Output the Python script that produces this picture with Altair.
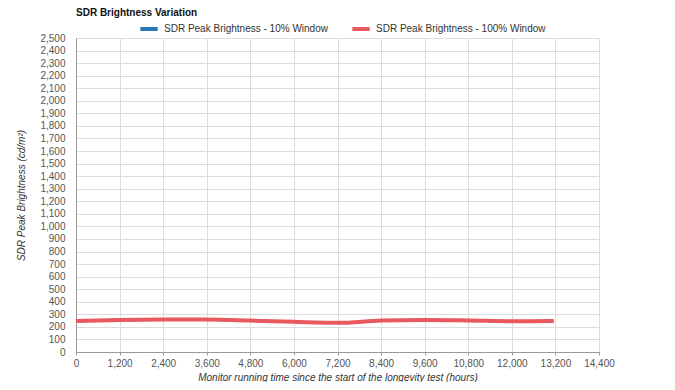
import altair as alt
import pandas as pd

hours = [0, 1200, 2400, 3600, 4800, 6000, 7200, 8400, 9600, 10800, 12000, 13150]
win10 = [246, 255, 258, 258, 250, 240, 232, 250, 255, 251, 245, 246]
win100 = [246, 255, 258, 258, 250, 240, 232, 250, 255, 251, 245, 246]
series = ["SDR Peak Brightness - 10% Window", "SDR Peak Brightness - 100% Window"]
colors = ["#2b77b3", "#e8585d"]

rows = []
for h, v in zip(hours, win10):
    rows.append({"hours": h, "value": v, "series": series[0]})
for h, v in zip(hours, win100):
    rows.append({"hours": h, "value": v, "series": series[1]})
df = pd.DataFrame(rows)

enc = dict(
    x=alt.X("hours:Q",
            scale=alt.Scale(domain=[0, 14400], nice=False),
            axis=alt.Axis(values=list(range(0, 14401, 1200)), format=",d",
                          title="Monitor running time since the start of the longevity test (hours)",
                          titleFontStyle="italic", titleFontWeight="normal", titleFontSize=10,
                          titleColor="#333", labelColor="#555", labelFontSize=10,
                          labelOverlap=False, labelFlush=False,
                          gridColor="#dcdcdc", domainColor="#999", tickColor="#999",
                          tickSize=3, labelPadding=3, titlePadding=4)),
    y=alt.Y("value:Q",
            scale=alt.Scale(domain=[0, 2500], nice=False),
            axis=alt.Axis(values=list(range(0, 2501, 100)), format=",d",
                          title="SDR Peak Brightness (cd/m²)",
                          titleFontStyle="italic", titleFontWeight="normal", titleFontSize=10,
                          titleColor="#333", labelColor="#555", labelFontSize=10,
                          labelOverlap=False, labelFlush=False,
                          gridColor="#dcdcdc", domainColor="#999", ticks=False,
                          labelPadding=11, titlePadding=13)),
    color=alt.Color("series:N", scale=alt.Scale(domain=series, range=colors),
                    legend=alt.Legend(title=None, orient="none", direction="horizontal",
                                      legendX=62, legendY=-20, symbolType="stroke",
                                      symbolStrokeWidth=4, symbolSize=300, labelLimit=0,
                                      labelFontSize=10, labelColor="#333", columnPadding=16)),
)

blue = alt.Chart(df).mark_line(strokeWidth=2.5, interpolate="monotone").encode(**enc).transform_filter(
    alt.datum.series == series[0])
red = alt.Chart(df).mark_line(strokeWidth=4, interpolate="monotone").encode(**enc).transform_filter(
    alt.datum.series == series[1])

chart = alt.layer(blue, red).properties(
    width=523, height=314,
    title=alt.TitleParams("SDR Brightness Variation", anchor="start", fontSize=10,
                          fontWeight="bold", color="#111", offset=0, frame="group"),
    autosize=alt.AutoSizeParams(type="none"),
    padding={"left": 68, "top": 30, "right": 60, "bottom": 30},
).configure(font="Liberation Sans").configure_view(stroke="#ddd")

chart.save("out.html", embed_options={"renderer": "svg", "actions": False})
